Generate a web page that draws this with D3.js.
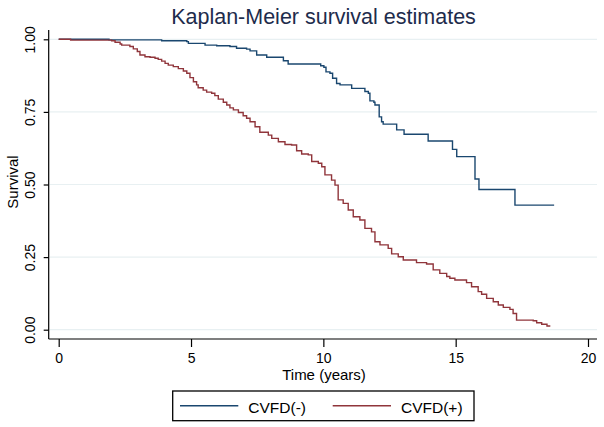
<!DOCTYPE html>
<html>
<head>
<meta charset="utf-8">
<script src="https://cdn.jsdelivr.net/npm/d3@7"></script>
<style>
  html, body { margin: 0; padding: 0; background: #fff; }
  svg { display: block; font-family: "Liberation Sans", Arial, sans-serif; }
</style>
</head>
<body>
<svg id="chart" width="604" height="427"></svg>
<script>
// ---- data ----
const seriesNames = ["CVFD(-)", "CVFD(+)"];
const seriesColors = ["#1A476F", "#90353B"];

// CVFD(-): step points [time (years), survival]
const negTimes = [0, 1.9, 3.89, 4.84, 4.90, 5.53, 5.97, 6.47, 6.72, 7.10, 7.23, 7.48, 7.86, 8.49, 8.67, 9.90, 10.02, 10.10, 10.25, 10.35, 10.50, 10.63, 11.07, 11.57, 11.70, 11.76, 11.91, 11.95, 12.11, 12.20, 12.26, 12.77, 13.05, 13.96, 14.88, 15.04, 15.73, 15.88, 17.24, 18.72];
const negSurv  = [1.0, 0.998, 0.995, 0.992, 0.986, 0.980, 0.978, 0.975, 0.969, 0.966, 0.960, 0.946, 0.938, 0.926, 0.915, 0.909, 0.904, 0.888, 0.883, 0.866, 0.848, 0.843, 0.831, 0.820, 0.814, 0.788, 0.783, 0.774, 0.733, 0.716, 0.708, 0.688, 0.673, 0.650, 0.621, 0.596, 0.519, 0.483, 0.429, 0.429];

// CVFD(+)
const posTimes = [0, 0.45, 2.0, 2.13, 2.32, 2.38, 2.69, 2.82, 2.97, 3.07, 3.26, 3.45, 3.64, 3.76, 3.89, 4.02, 4.14, 4.33, 4.52, 4.71, 4.84, 4.96, 5.09, 5.21, 5.27, 5.46, 5.59, 5.78, 5.90, 6.03, 6.22, 6.35, 6.47, 6.60, 6.79, 6.97, 7.10, 7.23, 7.42, 7.60, 7.92, 8.05, 8.30, 8.55, 8.80, 8.99, 9.18, 9.43, 9.56, 9.81, 9.94, 10.06, 10.31, 10.44, 10.56, 10.75, 10.94, 11.13, 11.38, 11.57, 11.82, 11.95, 12.14, 12.45, 12.58, 12.83, 13.02, 13.52, 13.90, 14.15, 14.40, 14.66, 14.78, 14.97, 15.41, 15.60, 15.85, 15.98, 16.17, 16.42, 16.61, 16.80, 17.05, 17.17, 17.30, 17.93, 18.06, 18.25, 18.45, 18.55];
const posSurv  = [1.0, 0.997, 0.995, 0.990, 0.984, 0.980, 0.975, 0.967, 0.958, 0.946, 0.940, 0.938, 0.935, 0.931, 0.925, 0.917, 0.911, 0.906, 0.899, 0.891, 0.883, 0.868, 0.854, 0.843, 0.833, 0.825, 0.818, 0.814, 0.806, 0.794, 0.783, 0.774, 0.764, 0.757, 0.748, 0.737, 0.728, 0.716, 0.699, 0.680, 0.670, 0.659, 0.647, 0.638, 0.636, 0.616, 0.605, 0.602, 0.579, 0.573, 0.561, 0.533, 0.515, 0.498, 0.447, 0.435, 0.412, 0.389, 0.378, 0.349, 0.337, 0.303, 0.292, 0.280, 0.261, 0.251, 0.240, 0.231, 0.226, 0.206, 0.194, 0.183, 0.177, 0.171, 0.162, 0.148, 0.131, 0.122, 0.108, 0.096, 0.085, 0.077, 0.070, 0.056, 0.033, 0.031, 0.024, 0.019, 0.013, 0.010];

const xTicks = [0, 5, 10, 15, 20];
const yTicks = [0, 0.25, 0.5, 0.75, 1.0];
const yTickLabels = ["0.00", "0.25", "0.50", "0.75", "1.00"];
const titleText = "Kaplan-Meier survival estimates";
const xTitle = "Time (years)";
const yTitle = "Survival";

// ---- drawing ----
const svg = d3.select("#chart");
const x = d3.scaleLinear().domain([0, 20]).range([58.7, 588]);
const y = d3.scaleLinear().domain([0, 1]).range([329.7, 39.3]);
const plotLeft = 48.7, plotRight = 597, plotTop = 30, plotBottom = 339;

// gridlines
svg.append("g").selectAll("line").data(yTicks).join("line")
  .attr("x1", plotLeft + 1).attr("x2", plotRight)
  .attr("y1", d => y(d)).attr("y2", d => y(d))
  .attr("stroke", "#E8F0F2").attr("stroke-width", 1.2);

// x axis
const xAxis = d3.axisBottom(x).tickValues(xTicks).tickFormat(d3.format("d")).tickSize(8).tickSizeOuter(0);
const gx = svg.append("g").attr("transform", `translate(0,${plotBottom})`).call(xAxis);
gx.select(".domain").remove();
gx.append("line").attr("x1", plotLeft).attr("x2", plotRight).attr("y1", 0).attr("y2", 0)
  .attr("stroke", "#000").attr("stroke-width", 1.2);
gx.selectAll(".tick line").attr("stroke", "#000").attr("stroke-width", 1.2);
gx.selectAll(".tick text").attr("fill", "#000").attr("font-size", 14)
  .attr("font-family", "Liberation Sans, Arial, sans-serif").attr("dy", null).attr("y", 24);

// y axis
const yAxis = d3.axisLeft(y).tickValues(yTicks).tickFormat((d, i) => yTickLabels[i]).tickSize(5).tickSizeOuter(0);
const gy = svg.append("g").attr("transform", `translate(${plotLeft},0)`).call(yAxis);
gy.select(".domain").remove();
gy.append("line").attr("x1", 0).attr("x2", 0).attr("y1", plotTop).attr("y2", plotBottom)
  .attr("stroke", "#000").attr("stroke-width", 1.2);
gy.selectAll(".tick line").attr("stroke", "#000").attr("stroke-width", 1.2);
gy.selectAll(".tick text").attr("fill", "#000").attr("font-size", 14)
  .attr("font-family", "Liberation Sans, Arial, sans-serif")
  .attr("x", null).attr("dy", null)
  .attr("transform", "translate(-13.5,0) rotate(-90)")
  .attr("text-anchor", "middle");

// curves
const line = d3.line().x(d => x(d[0])).y(d => y(d[1])).curve(d3.curveStepAfter);
const series = [
  d3.zip(negTimes, negSurv),
  d3.zip(posTimes, posSurv)
];
svg.append("g").selectAll("path").data(series).join("path")
  .attr("d", line).attr("fill", "none")
  .attr("stroke", (d, i) => seriesColors[i]).attr("stroke-width", 1.4);

// titles
svg.append("text").attr("x", 323.5).attr("y", 23.5).attr("text-anchor", "middle")
  .attr("font-size", 21.5).attr("fill", "#1E2C4C").text(titleText);
svg.append("text").attr("x", 324).attr("y", 380).attr("text-anchor", "middle")
  .attr("font-size", 15).attr("fill", "#000").text(xTitle);
svg.append("text").attr("transform", `translate(18,${(y(0) + y(1)) / 2 - 2.5}) rotate(-90)`)
  .attr("text-anchor", "middle").attr("font-size", 15).attr("fill", "#000").text(yTitle);

// legend
const lg = svg.append("g");
lg.append("rect").attr("x", 172.7).attr("y", 391).attr("width", 301.3).attr("height", 29.7)
  .attr("fill", "#fff").attr("stroke", "#000").attr("stroke-width", 1.3);
const legendItems = seriesNames.map((n, i) => ({ name: n, color: seriesColors[i], x0: [180, 332.7][i] }));
const li = lg.selectAll("g.item").data(legendItems).join("g").attr("class", "item");
li.append("line").attr("x1", d => d.x0).attr("x2", d => d.x0 + 58.3)
  .attr("y1", 405.7).attr("y2", 405.7).attr("stroke", d => d.color).attr("stroke-width", 1.4);
li.append("text").attr("x", d => d.x0 + 68.3).attr("y", 413.2)
  .attr("font-size", 15.5).attr("fill", "#000").text(d => d.name);
</script>
</body>
</html>
